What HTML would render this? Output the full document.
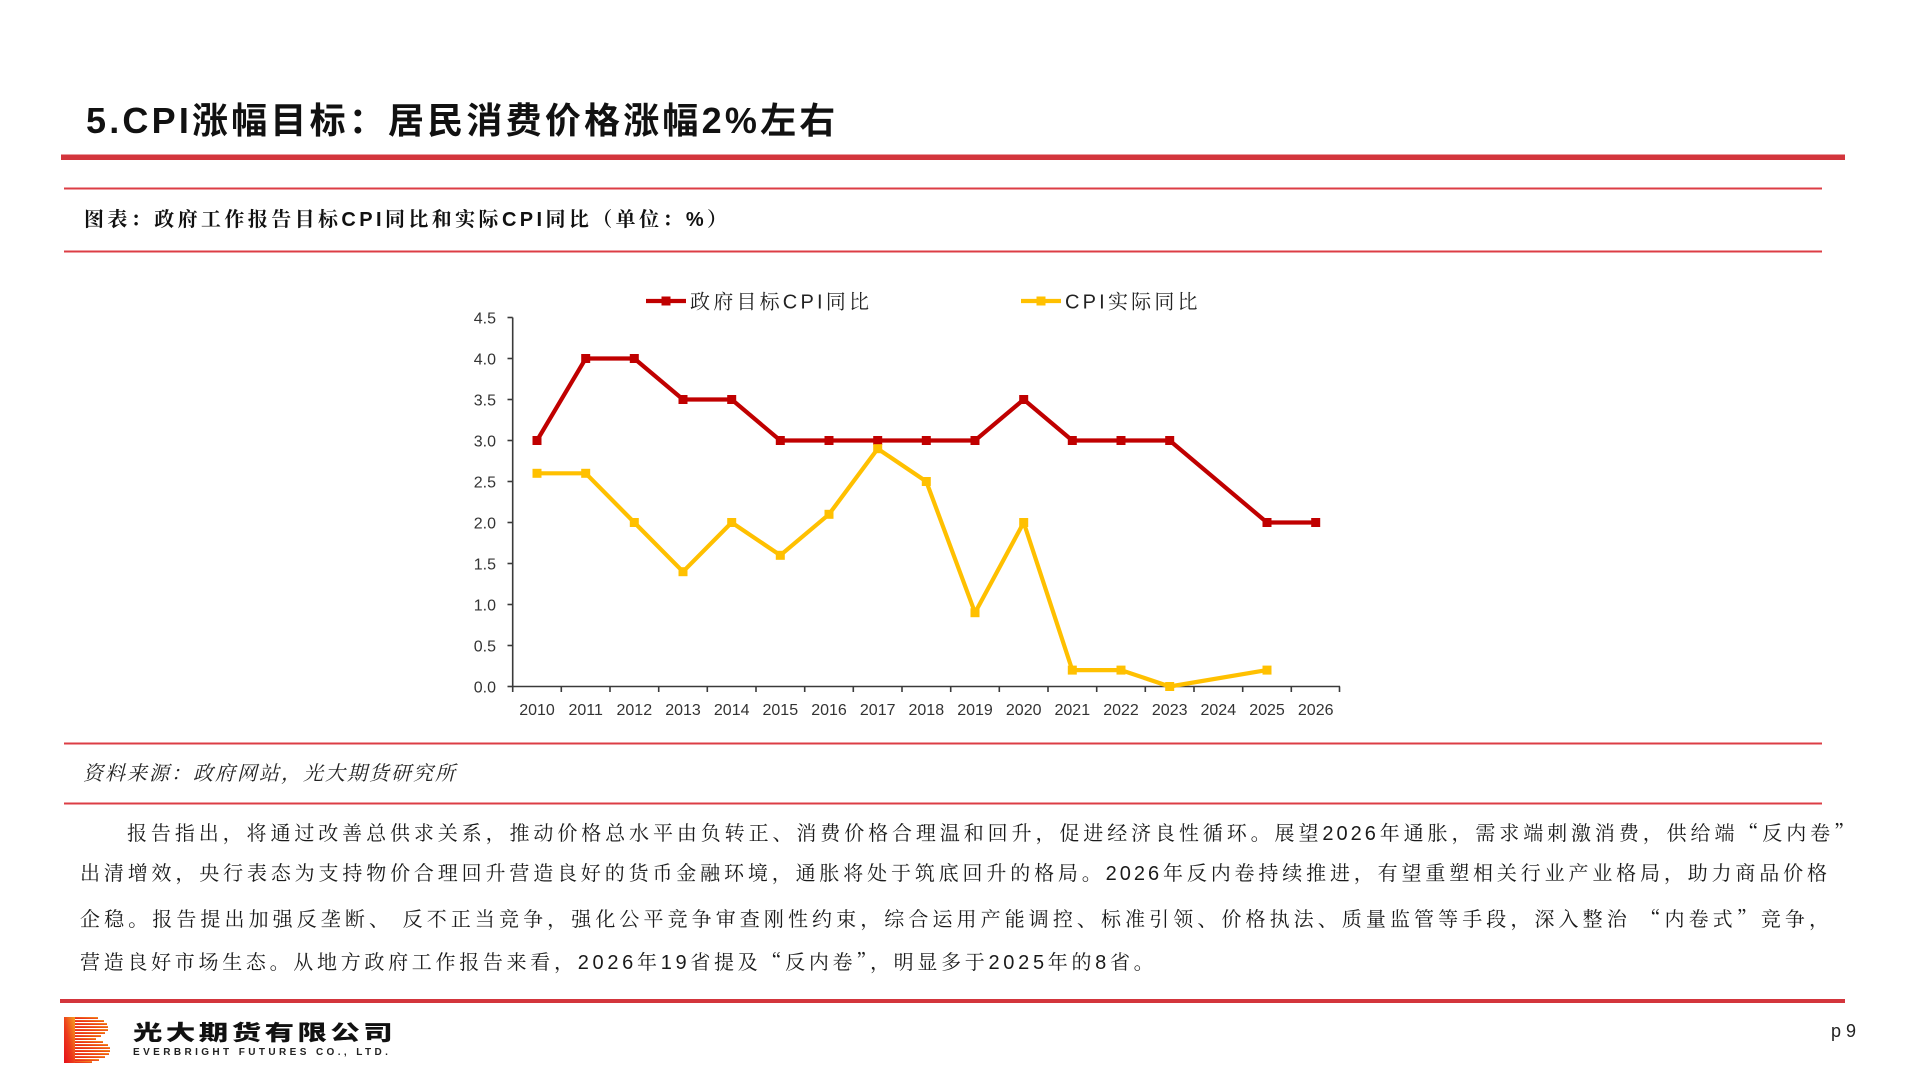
<!DOCTYPE html>
<html>
<head>
<meta charset="utf-8">
<style>
  html,body{margin:0;padding:0;background:#fff;}
  body{width:1920px;height:1080px;position:relative;overflow:hidden;}
  .abs{position:absolute;white-space:nowrap;}
  .title{left:86px;top:101px;font-size:36px;line-height:40px;font-weight:700;letter-spacing:3.2px;color:#111;
    font-family:"Liberation Sans","Noto Sans CJK SC",sans-serif;}
  .ctitle{left:84px;top:208px;font-size:20px;line-height:24px;font-weight:700;letter-spacing:3.4px;color:#111;
    font-family:"Liberation Sans","Noto Serif CJK SC",serif;}
  .src{left:83px;top:762px;font-size:20px;line-height:24px;letter-spacing:2px;color:#222;font-style:italic;
    font-family:"Liberation Sans","Noto Serif CJK SC",serif;}
  .para{left:80px;width:1765px;font-size:20px;line-height:43px;letter-spacing:3px;color:#1a1a1a;
    font-family:"Liberation Sans","Noto Serif CJK SC",serif;}
  .j{text-align:justify;text-align-last:justify;}
  .q{font-family:"Noto Serif CJK SC",serif;}
  .company{left:133px;top:1022px;font-size:21px;line-height:24px;font-weight:900;letter-spacing:2.5px;color:#111;
    font-family:"Liberation Sans","Noto Sans CJK SC",sans-serif;transform:scaleX(1.4);transform-origin:0 0;}
  .eng{left:133px;top:1046.5px;font-size:10px;line-height:12px;letter-spacing:3.4px;color:#222;font-weight:700;
    font-family:"Liberation Sans",sans-serif;}
  .pg{left:1831px;top:1021px;font-size:18px;line-height:20px;color:#222;font-family:"Liberation Sans",sans-serif;}
</style>
</head>
<body>
<svg class="abs" style="left:0;top:0" width="1920" height="1080" viewBox="0 0 1920 1080" xmlns="http://www.w3.org/2000/svg">
  <defs>
    <linearGradient id="lg" x1="1" y1="0" x2="0" y2="1">
      <stop offset="0" stop-color="#f6a01e"/>
      <stop offset="0.55" stop-color="#ec3b1c"/>
      <stop offset="1" stop-color="#e50f1a"/>
    </linearGradient>
  </defs>
  <!-- rules -->
  <rect x="61" y="154.5" width="1784" height="5.5" fill="#d3353c"/>
  <rect x="64" y="187.5" width="1758" height="2" fill="#dc3e45"/>
  <rect x="64" y="250.5" width="1758" height="2" fill="#dc3e45"/>
  <rect x="64" y="742.5" width="1758" height="2" fill="#dc3e45"/>
  <rect x="64" y="802.5" width="1758" height="2" fill="#dc3e45"/>
  <rect x="60" y="999" width="1785" height="4" fill="#d3353c"/>

  <!-- axes -->
  <g stroke="#3a3a3a" stroke-width="1.6" fill="none">
    <line x1="512.7" y1="317.5" x2="512.7" y2="687"/>
    <line x1="512" y1="686.5" x2="1340" y2="686.5"/>
    <line x1="507.5" y1="686.5" x2="512.7" y2="686.5"/>
    <line x1="507.5" y1="645.5" x2="512.7" y2="645.5"/>
    <line x1="507.5" y1="604.5" x2="512.7" y2="604.5"/>
    <line x1="507.5" y1="563.5" x2="512.7" y2="563.5"/>
    <line x1="507.5" y1="522.5" x2="512.7" y2="522.5"/>
    <line x1="507.5" y1="481.5" x2="512.7" y2="481.5"/>
    <line x1="507.5" y1="440.5" x2="512.7" y2="440.5"/>
    <line x1="507.5" y1="399.5" x2="512.7" y2="399.5"/>
    <line x1="507.5" y1="358.5" x2="512.7" y2="358.5"/>
    <line x1="507.5" y1="317.5" x2="512.7" y2="317.5"/>
    <line x1="512.7" y1="686.5" x2="512.7" y2="692"/>
    <line x1="561.3" y1="686.5" x2="561.3" y2="692"/>
    <line x1="610.0" y1="686.5" x2="610.0" y2="692"/>
    <line x1="658.7" y1="686.5" x2="658.7" y2="692"/>
    <line x1="707.3" y1="686.5" x2="707.3" y2="692"/>
    <line x1="756.0" y1="686.5" x2="756.0" y2="692"/>
    <line x1="804.7" y1="686.5" x2="804.7" y2="692"/>
    <line x1="853.3" y1="686.5" x2="853.3" y2="692"/>
    <line x1="902.0" y1="686.5" x2="902.0" y2="692"/>
    <line x1="950.7" y1="686.5" x2="950.7" y2="692"/>
    <line x1="999.3" y1="686.5" x2="999.3" y2="692"/>
    <line x1="1048.0" y1="686.5" x2="1048.0" y2="692"/>
    <line x1="1096.7" y1="686.5" x2="1096.7" y2="692"/>
    <line x1="1145.3" y1="686.5" x2="1145.3" y2="692"/>
    <line x1="1194.0" y1="686.5" x2="1194.0" y2="692"/>
    <line x1="1242.7" y1="686.5" x2="1242.7" y2="692"/>
    <line x1="1291.3" y1="686.5" x2="1291.3" y2="692"/>
    <line x1="1339.5" y1="686.5" x2="1339.5" y2="692"/>
  </g>

  <!-- y labels -->
  <g font-family="Liberation Sans, sans-serif" font-size="16" fill="#333" text-anchor="end">
    <text x="496" y="692.3">0.0</text>
    <text x="496" y="651.3">0.5</text>
    <text x="496" y="610.3">1.0</text>
    <text x="496" y="569.3">1.5</text>
    <text x="496" y="528.3">2.0</text>
    <text x="496" y="487.3">2.5</text>
    <text x="496" y="446.3">3.0</text>
    <text x="496" y="405.3">3.5</text>
    <text x="496" y="364.3">4.0</text>
    <text x="496" y="323.3">4.5</text>
  </g>
  <!-- x labels -->
  <g font-family="Liberation Sans, sans-serif" font-size="16" fill="#333" text-anchor="middle">
    <text x="537.0" y="715">2010</text>
    <text x="585.7" y="715">2011</text>
    <text x="634.3" y="715">2012</text>
    <text x="683.0" y="715">2013</text>
    <text x="731.7" y="715">2014</text>
    <text x="780.3" y="715">2015</text>
    <text x="829.0" y="715">2016</text>
    <text x="877.7" y="715">2017</text>
    <text x="926.3" y="715">2018</text>
    <text x="975.0" y="715">2019</text>
    <text x="1023.7" y="715">2020</text>
    <text x="1072.3" y="715">2021</text>
    <text x="1121.0" y="715">2022</text>
    <text x="1169.7" y="715">2023</text>
    <text x="1218.3" y="715">2024</text>
    <text x="1267.0" y="715">2025</text>
    <text x="1315.7" y="715">2026</text>
  </g>

  <!-- red series -->
  <polyline fill="none" stroke="#c00000" stroke-width="4.2" stroke-linejoin="round"
    points="537,440.5 585.7,358.5 634.3,358.5 683,399.5 731.7,399.5 780.3,440.5 829,440.5 877.7,440.5 926.3,440.5 975,440.5 1023.7,399.5 1072.3,440.5 1121,440.5 1169.7,440.5 1267,522.5 1315.7,522.5"/>
  <g fill="#c00000">
    <rect x="532.5" y="436" width="9" height="9"/>
    <rect x="581.2" y="354" width="9" height="9"/>
    <rect x="629.8" y="354" width="9" height="9"/>
    <rect x="678.5" y="395" width="9" height="9"/>
    <rect x="727.2" y="395" width="9" height="9"/>
    <rect x="775.8" y="436" width="9" height="9"/>
    <rect x="824.5" y="436" width="9" height="9"/>
    <rect x="873.2" y="436" width="9" height="9"/>
    <rect x="921.8" y="436" width="9" height="9"/>
    <rect x="970.5" y="436" width="9" height="9"/>
    <rect x="1019.2" y="395" width="9" height="9"/>
    <rect x="1067.8" y="436" width="9" height="9"/>
    <rect x="1116.5" y="436" width="9" height="9"/>
    <rect x="1165.2" y="436" width="9" height="9"/>
    <rect x="1262.5" y="518" width="9" height="9"/>
    <rect x="1311.2" y="518" width="9" height="9"/>
  </g>

  <!-- yellow series -->
  <polyline fill="none" stroke="#ffc000" stroke-width="4.2" stroke-linejoin="round"
    points="537,473.3 585.7,473.3 634.3,522.5 683,571.7 731.7,522.5 780.3,555.3 829,514.3 877.7,448.7 926.3,481.5 975,612.7 1023.7,522.5 1072.3,670.1 1121,670.1 1169.7,686.5 1267,670.1"/>
  <g fill="#ffc000">
    <rect x="532.5" y="468.8" width="9" height="9"/>
    <rect x="581.2" y="468.8" width="9" height="9"/>
    <rect x="629.8" y="518" width="9" height="9"/>
    <rect x="678.5" y="567.2" width="9" height="9"/>
    <rect x="727.2" y="518" width="9" height="9"/>
    <rect x="775.8" y="550.8" width="9" height="9"/>
    <rect x="824.5" y="509.8" width="9" height="9"/>
    <rect x="873.2" y="444.2" width="9" height="9"/>
    <rect x="921.8" y="477" width="9" height="9"/>
    <rect x="970.5" y="608.2" width="9" height="9"/>
    <rect x="1019.2" y="518" width="9" height="9"/>
    <rect x="1067.8" y="665.6" width="9" height="9"/>
    <rect x="1116.5" y="665.6" width="9" height="9"/>
    <rect x="1165.2" y="682" width="9" height="9"/>
    <rect x="1262.5" y="665.6" width="9" height="9"/>
  </g>

  <!-- legend -->
  <line x1="646" y1="301" x2="686" y2="301" stroke="#c00000" stroke-width="4.2"/>
  <rect x="661.5" y="296.5" width="9" height="9" fill="#c00000"/>
  <text x="690" y="308.5" font-family="Liberation Sans, Noto Serif CJK SC, serif" font-size="20" letter-spacing="3.2" fill="#222">政府目标CPI同比</text>
  <line x1="1021" y1="301" x2="1061" y2="301" stroke="#ffc000" stroke-width="4.2"/>
  <rect x="1036.5" y="296.5" width="9" height="9" fill="#ffc000"/>
  <text x="1065" y="308.5" font-family="Liberation Sans, Noto Serif CJK SC, serif" font-size="20" letter-spacing="3.2" fill="#222">CPI实际同比</text>

  <!-- logo -->
  <g>
    <g fill="url(#lg)">
      <rect x="64" y="1017" width="34" height="2"/>
      <rect x="64" y="1020" width="40" height="2"/>
      <rect x="64" y="1023" width="43" height="2"/>
      <rect x="64" y="1026" width="44" height="2"/>
      <rect x="64" y="1029" width="44" height="2"/>
      <rect x="64" y="1032" width="41" height="2"/>
      <rect x="64" y="1035" width="37" height="2"/>
      <rect x="64" y="1038" width="32" height="2"/>
      <rect x="64" y="1041" width="39" height="2"/>
      <rect x="64" y="1044" width="44" height="2"/>
      <rect x="64" y="1047" width="46" height="2"/>
      <rect x="64" y="1050" width="46" height="2"/>
      <rect x="64" y="1053" width="45" height="2"/>
      <rect x="64" y="1056" width="41" height="2"/>
      <rect x="64" y="1059" width="35" height="2"/>
      <rect x="64" y="1061" width="28" height="2"/>
    </g>
    <rect x="64" y="1017" width="11" height="46" fill="url(#lg)"/>
  </g>
</svg>

<div class="abs title">5.CPI涨幅目标：居民消费价格涨幅2%左右</div>
<div class="abs ctitle">图表：政府工作报告目标CPI同比和实际CPI同比（单位：%）</div>
<div class="abs src">资料来源：政府网站，光大期货研究所</div>

<div class="abs para j" style="top:809.5px;padding-left:47px;width:1730px;">报告指出，将通过改善总供求关系，推动价格总水平由负转正、消费价格合理温和回升，促进经济良性循环。展望2026年通胀，需求端刺激消费，供给端<span class="q">“</span>反内卷<span class="q">”</span></div>
<div class="abs para j" style="top:852.5px;width:1750px;">出清增效，央行表态为支持物价合理回升营造良好的货币金融环境，通胀将处于筑底回升的格局。2026年反内卷持续推进，有望重塑相关行业产业格局，助力商品价格</div>
<div class="abs para j" style="top:895.5px;width:1752px;">企稳。报告提出加强反垄断、 反不正当竞争，强化公平竞争审查刚性约束，综合运用产能调控、标准引领、价格执法、质量监管等手段，深入整治 <span class="q">“</span>内卷式<span class="q">”</span>竞争，</div>
<div class="abs para" style="top:938.5px;letter-spacing:3.7px;">营造良好市场生态。从地方政府工作报告来看，2026年19省提及<span class="q">“</span>反内卷<span class="q">”</span>，明显多于2025年的8省。</div>

<div class="abs company">光大期货有限公司</div>
<div class="abs eng">EVERBRIGHT FUTURES CO., LTD.</div>
<div class="abs pg">p 9</div>
</body>
</html>
